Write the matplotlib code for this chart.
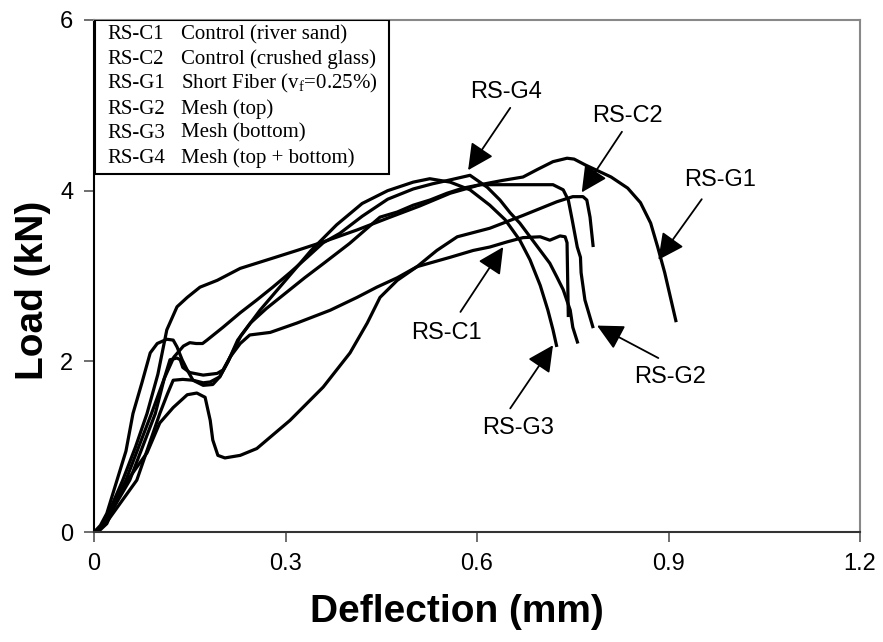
import matplotlib.pyplot as plt
from matplotlib.patches import Rectangle

plt.rcParams['mathtext.fontset'] = 'custom'
plt.rcParams['mathtext.rm'] = 'Liberation Serif'

# load-deflection curves (deflection in mm, load in kN)
c1_x = [0, 0.01, 0.02, 0.056, 0.096, 0.11, 0.119, 0.13, 0.135, 0.139, 0.15, 0.171, 0.193, 0.202,
        0.213, 0.229, 0.244, 0.276, 0.318, 0.37, 0.412, 0.443, 0.475, 0.506, 0.558, 0.594, 0.62,
        0.647, 0.672, 0.699, 0.714, 0.73, 0.738, 0.741, 0.743]
c1_y = [0, 0.05, 0.15, 0.61, 1.39, 1.8, 2.02, 2.04, 2.02, 1.93, 1.87, 1.84, 1.86, 1.9,
        2.05, 2.21, 2.31, 2.34, 2.45, 2.6, 2.75, 2.87, 2.98, 3.11, 3.22, 3.3, 3.34,
        3.4, 3.45, 3.46, 3.42, 3.47, 3.46, 3.39, 2.52]

c2_x = [0, 0.01, 0.02, 0.045, 0.083, 0.103, 0.124, 0.146, 0.161, 0.174, 0.182, 0.186, 0.194,
        0.205, 0.229, 0.255, 0.307, 0.359, 0.401, 0.428, 0.448, 0.475, 0.506, 0.537, 0.569,
        0.62, 0.672, 0.725, 0.75, 0.766, 0.772, 0.777, 0.782]
c2_y = [0, 0.03, 0.1, 0.53, 0.93, 1.28, 1.46, 1.61, 1.63, 1.58, 1.31, 1.08, 0.9,
        0.87, 0.9, 0.98, 1.31, 1.7, 2.1, 2.45, 2.75, 2.95, 3.11, 3.3, 3.46,
        3.56, 3.71, 3.87, 3.93, 3.93, 3.89, 3.69, 3.34]

g1_x = [0, 0.01, 0.02, 0.045, 0.065, 0.083, 0.1, 0.114, 0.13, 0.146, 0.166, 0.193, 0.229, 0.28,
        0.318, 0.359, 0.412, 0.464, 0.51, 0.558, 0.605, 0.64, 0.672, 0.695, 0.719, 0.741, 0.752,
        0.77, 0.81, 0.836, 0.856, 0.872, 0.883, 0.894, 0.912]
g1_y = [0, 0.06, 0.18, 0.61, 1.0, 1.39, 1.85, 2.37, 2.64, 2.75, 2.87, 2.95, 3.09, 3.21,
        3.3, 3.4, 3.54, 3.69, 3.82, 3.97, 4.07, 4.12, 4.16, 4.25, 4.34, 4.38, 4.37,
        4.3, 4.16, 4.03, 3.86, 3.62, 3.34, 3.04, 2.46]

g2_x = [0, 0.01, 0.02, 0.067, 0.103, 0.115, 0.124, 0.139, 0.155, 0.171, 0.182, 0.197, 0.21,
        0.225, 0.245, 0.27, 0.3, 0.33, 0.36, 0.4, 0.448, 0.475, 0.5, 0.526, 0.553, 0.578, 0.605,
        0.65, 0.7, 0.719, 0.735, 0.743, 0.749, 0.757, 0.762, 0.763, 0.769, 0.782]
g2_y = [0, 0.04, 0.12, 0.61, 1.39, 1.62, 1.78, 1.79, 1.78, 1.75, 1.76, 1.82, 2.0,
        2.25, 2.45, 2.62, 2.8, 2.98, 3.15, 3.38, 3.69, 3.75, 3.83, 3.89, 3.97, 4.03, 4.07,
        4.07, 4.07, 4.07, 4.01, 3.89, 3.66, 3.34, 3.22, 3.04, 2.72, 2.39]

g3_x = [0, 0.01, 0.02, 0.036, 0.05, 0.061, 0.075, 0.088, 0.099, 0.114, 0.124, 0.13, 0.138,
        0.146, 0.155, 0.171, 0.186, 0.197, 0.21, 0.23, 0.26, 0.3, 0.34, 0.38, 0.42, 0.46, 0.5,
        0.526, 0.558, 0.589, 0.62, 0.644, 0.667, 0.683, 0.699, 0.711, 0.719, 0.725]
g3_y = [0, 0.08, 0.22, 0.61, 0.95, 1.39, 1.75, 2.1, 2.21, 2.26, 2.25, 2.17, 2.02,
        1.9, 1.78, 1.72, 1.73, 1.82, 2.0, 2.3, 2.6, 2.95, 3.3, 3.6, 3.85, 4.0, 4.1,
        4.14, 4.1, 4.01, 3.83, 3.66, 3.42, 3.19, 2.89, 2.6, 2.37, 2.17]

g4_x = [0, 0.01, 0.02, 0.05, 0.09, 0.11, 0.125, 0.14, 0.15, 0.16, 0.17, 0.177, 0.202, 0.229,
        0.255, 0.28, 0.307, 0.334, 0.359, 0.385, 0.42, 0.46, 0.5, 0.53, 0.56, 0.589, 0.616,
        0.636, 0.652, 0.667, 0.683, 0.699, 0.714, 0.725, 0.735, 0.746, 0.75, 0.758]
g4_y = [0, 0.05, 0.14, 0.61, 1.39, 1.8, 2.05, 2.18, 2.22, 2.21, 2.21, 2.25, 2.4, 2.57,
        2.72, 2.87, 3.04, 3.22, 3.39, 3.5, 3.7, 3.9, 4.02, 4.08, 4.13, 4.18, 4.04,
        3.89, 3.74, 3.62, 3.46, 3.3, 3.15, 2.99, 2.84, 2.6, 2.4, 2.21]

codes = ['RS-C1', 'RS-C2', 'RS-G1', 'RS-G2', 'RS-G3', 'RS-G4']
descriptions = ['Control (river sand)', 'Control (crushed glass)',
                r'Short Fiber (v$_\mathrm{f}$=0.25%)', 'Mesh (top)',
                'Mesh (bottom)', 'Mesh (top + bottom)']

# callout labels: text position, arrow tail, arrow tip
label_xy = [(0.552, 2.33), (0.835, 4.87), (0.98, 4.12), (0.903, 1.82), (0.665, 1.22), (0.645, 5.15)]
tail_xy = [(0.574, 2.58), (0.827, 4.69), (0.952, 3.9), (0.884, 2.04), (0.652, 1.45), (0.652, 4.97)]
tip_xy = [(0.641, 3.34), (0.764, 3.98), (0.884, 3.19), (0.788, 2.42), (0.719, 2.19), (0.586, 4.24)]

fig, ax = plt.subplots(figsize=(8.83, 6.42), dpi=100)
fig.subplots_adjust(left=0.1065, right=0.974, bottom=0.171, top=0.969)

for xs, ys in [(c1_x, c1_y), (c2_x, c2_y), (g1_x, g1_y), (g2_x, g2_y), (g3_x, g3_y), (g4_x, g4_y)]:
    ax.plot(xs, ys, color='black', lw=2.3, solid_joinstyle='round', solid_capstyle='butt')

for code, pos, tail, tip in zip(codes, label_xy, tail_xy, tip_xy):
    ax.text(pos[0], pos[1], code, fontsize=17, family='Liberation Sans', ha='center', va='center')
    ax.annotate('', xy=tip, xytext=tail,
                arrowprops=dict(arrowstyle='-|>,head_length=0.8,head_width=0.4',
                                mutation_scale=20, lw=1.3, color='black',
                                shrinkA=0, shrinkB=0))

ax.set_xlim(0, 1.2)
ax.set_ylim(0, 6)
ax.set_xticks([0, 0.3, 0.6, 0.9, 1.2])
ax.set_xticklabels(['0', '0.3', '0.6', '0.9', '1.2'])
ax.set_yticks([0, 2, 4, 6])
ax.tick_params(direction='out', length=7, width=1.2, color='#555555', labelsize=17, pad=8)
for lbl in ax.get_xticklabels() + ax.get_yticklabels():
    lbl.set_family('Liberation Sans')

ax.spines['left'].set_color('black')
ax.spines['bottom'].set_color('#333333')
ax.spines['top'].set_color('#888888')
ax.spines['right'].set_color('#888888')
for s in ax.spines.values():
    s.set_linewidth(1.5)

ax.set_xlabel('Deflection (mm)', fontsize=28, fontweight='bold', family='Liberation Sans')
ax.set_ylabel('Load (kN)', fontsize=28, fontweight='bold', family='Liberation Sans')
ax.xaxis.set_label_coords(0.474, -0.156)
ax.yaxis.set_label_coords(-0.08, 0.473)
ax.xaxis.label.set_va('center')
ax.yaxis.label.set_va('center')

# legend box with code / description columns
ax.add_patch(Rectangle((0.001, 0.699), 0.384, 0.301, transform=ax.transAxes,
                       facecolor='white', edgecolor='black', lw=1.5, zorder=5))
rows_y = [0.971, 0.923, 0.875, 0.826, 0.779, 0.730]
for code, desc, ry in zip(codes, descriptions, rows_y):
    ax.text(0.017, ry, code, transform=ax.transAxes, fontsize=15,
            family='Liberation Serif', va='center', zorder=6)
    ax.text(0.1136, ry, desc, transform=ax.transAxes, fontsize=15,
            family='Liberation Serif', va='center', zorder=6)

plt.savefig('out.png', dpi=100)
